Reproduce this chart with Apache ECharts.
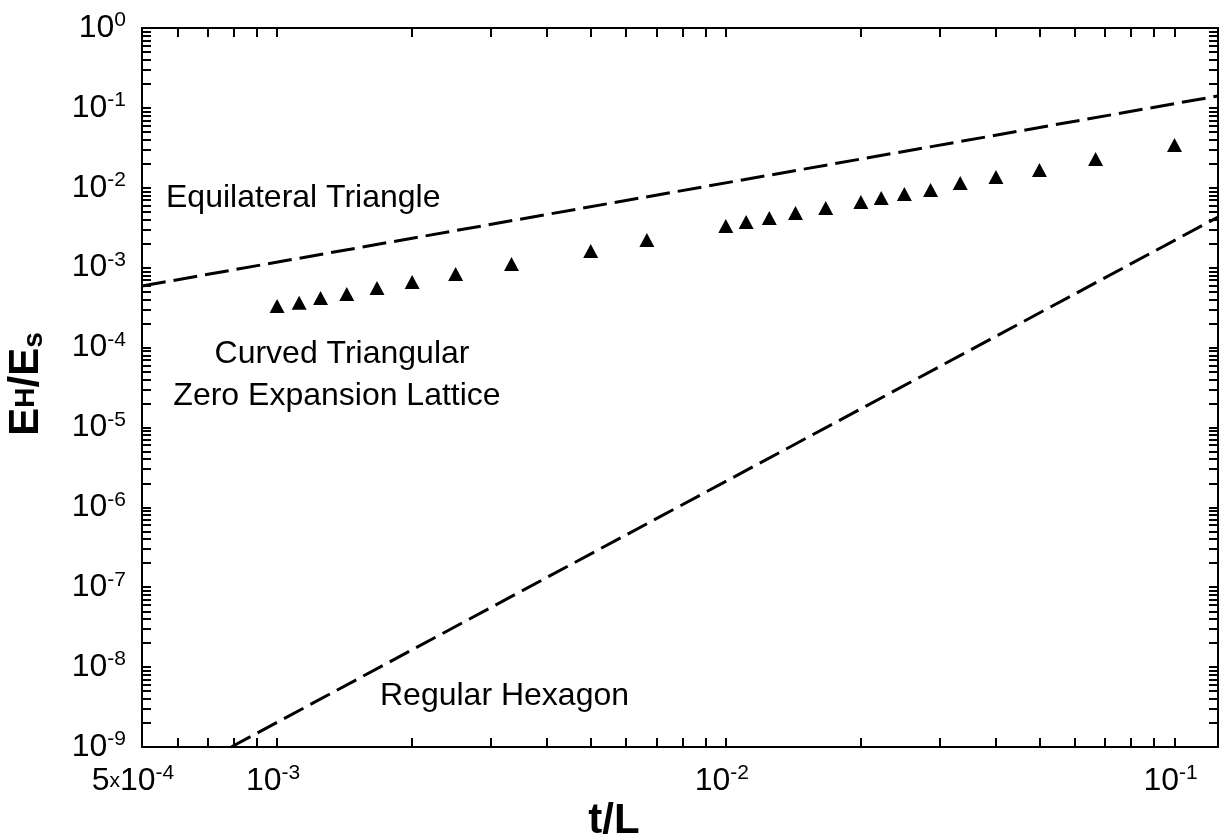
<!DOCTYPE html>
<html>
<head>
<meta charset="utf-8">
<title>EH/Es vs t/L</title>
<style>
  html, body { margin: 0; padding: 0; background: #fff; }
  #chart { width: 1225px; height: 839px; }
</style>
<script src="https://cdn.jsdelivr.net/npm/echarts@6/dist/echarts.min.js"></script>
</head>
<body>
<div id="chart"></div>
<script>
// curved triangular zero expansion lattice
const latticeT = [0.001, 0.00112, 0.00125, 0.00143, 0.00167, 0.002, 0.0025, 0.00333, 0.005, 0.00667,
  0.01, 0.0111, 0.0125, 0.0143, 0.0167, 0.02, 0.0222, 0.025, 0.0286, 0.0333, 0.04, 0.05, 0.0667, 0.1];
const latticeE = [3.32e-4, 3.65e-4, 4.18e-4, 4.69e-4, 5.57e-4, 6.62e-4, 8.34e-4, 1.11e-3, 1.62e-3, 2.22e-3,
  3.33e-3, 3.73e-3, 4.19e-3, 4.84e-3, 5.59e-3, 6.64e-3, 7.45e-3, 8.36e-3, 9.38e-3, 1.15e-2, 1.36e-2, 1.67e-2, 2.29e-2, 3.43e-2];

// end points of the dashed lines
const triangleT = [5e-4, 0.125];
const triangleE = [5.9e-4, 0.141];
const hexagonT = [7.9e-4, 0.125];
const hexagonE = [1e-9, 4.3e-3];

// axes
const xMin = 5e-4, xMax = 0.125;
const yMin = 1e-9, yMax = 1;

// tick marks at 1..9 x 10^k inside the range
function logTicks(lo, hi) {
  const out = [];
  for (let k = -10; k <= 1; k++) {
    for (let m = 1; m <= 9; m++) {
      const v = m * Math.pow(10, k);
      if (v > lo * 1.0001 && v < hi * 0.9999) out.push(v);
    }
  }
  return out;
}
const xTicks = logTicks(xMin, xMax);
const yTicks = logTicks(yMin, yMax);

const FONT = 'Liberation Sans, Arial, sans-serif';
const labelRich = {
  b: { fontSize: 32, fontFamily: FONT, color: '#000', lineHeight: 36 },
  s: { fontSize: 21, fontFamily: FONT, color: '#000', lineHeight: 21, verticalAlign: 'top' },
  sp: { fontSize: 21, fontFamily: FONT, color: '#000', lineHeight: 21, verticalAlign: 'top', padding: [0, 18, 0, 0] },
  sx: { fontSize: 21, fontFamily: FONT, color: '#000', lineHeight: 21, verticalAlign: 'top', padding: [0, 8, 0, 0] },
  x: { fontSize: 21, fontFamily: FONT, color: '#000', lineHeight: 36 }
};

function powerOf(v) {
  const e = Math.log10(v);
  const r = Math.round(e);
  return Math.abs(e - r) < 1e-6 ? r : null;
}

function xLabel(v) {
  if (Math.abs(v / xMin - 1) < 1e-3) return '{b|5}{x|x}{b|10}{sp|-4}';
  const p = powerOf(v);
  return p === null ? '' : '{b|10}{sx|' + p + '}';
}

function yLabel(v) {
  const p = powerOf(v);
  return p === null ? '' : '{b|10}{s|' + p + '}';
}

const line = { color: '#000', width: 2 };

function axisBase(extra) {
  return Object.assign({
    type: 'log',
    logBase: 10,
    axisLine: { show: true, onZero: false, lineStyle: line },
    splitLine: { show: false },
    minorTick: { show: false }
  }, extra);
}

const chart = echarts.init(document.getElementById('chart'));

chart.setOption({
  animation: false,
  backgroundColor: '#fff',
  grid: { left: 142, right: 7, top: 28, bottom: 92, containLabel: false },
  xAxis: [
    axisBase({
      position: 'bottom', min: xMin, max: xMax,
      axisTick: { show: true, inside: true, length: 9, lineStyle: line, customValues: xTicks },
      axisLabel: { margin: 16, formatter: xLabel, rich: labelRich, showMinLabel: true, showMaxLabel: false }
    }),
    axisBase({
      position: 'top', min: xMin, max: xMax,
      axisTick: { show: true, inside: true, length: 9, lineStyle: line, customValues: xTicks },
      axisLabel: { show: false }
    })
  ],
  yAxis: [
    axisBase({
      position: 'left', min: yMin, max: yMax,
      axisTick: { show: true, inside: true, length: 9, lineStyle: line, customValues: yTicks },
      axisLabel: { margin: 16, formatter: yLabel, rich: labelRich, showMinLabel: true, showMaxLabel: true }
    }),
    axisBase({
      position: 'right', min: yMin, max: yMax,
      axisTick: { show: true, inside: true, length: 9, lineStyle: line, customValues: yTicks },
      axisLabel: { show: false }
    })
  ],
  series: [
    {
      name: 'Equilateral Triangle',
      type: 'line',
      symbol: 'none',
      lineStyle: { color: '#000', width: 3, type: [24, 8] },
      data: triangleT.map((t, i) => [t, triangleE[i]])
    },
    {
      name: 'Regular Hexagon',
      type: 'line',
      symbol: 'none',
      lineStyle: { color: '#000', width: 3, type: [22, 8] },
      data: hexagonT.map((t, i) => [t, hexagonE[i]])
    },
    {
      name: 'Curved Triangular Zero Expansion Lattice',
      type: 'scatter',
      symbol: 'triangle',
      symbolSize: [15, 14],
      itemStyle: { color: '#000', opacity: 1 },
      data: latticeT.map((t, i) => [t, latticeE[i]])
    }
  ],
  graphic: [
    { type: 'text', x: 166, y: 198, style: { text: 'Equilateral Triangle', font: '32px ' + FONT, fill: '#000', align: 'left', verticalAlign: 'middle' } },
    { type: 'text', x: 342, y: 354, style: { text: 'Curved Triangular', font: '32px ' + FONT, fill: '#000', align: 'center', verticalAlign: 'middle' } },
    { type: 'text', x: 337, y: 396, style: { text: 'Zero Expansion Lattice', font: '32px ' + FONT, fill: '#000', align: 'center', verticalAlign: 'middle' } },
    { type: 'text', x: 380, y: 696, style: { text: 'Regular Hexagon', font: '32px ' + FONT, fill: '#000', align: 'left', verticalAlign: 'middle' } },
    { type: 'text', x: 614, y: 821, style: { text: 't/L', font: 'bold 42px ' + FONT, fill: '#000', align: 'center', verticalAlign: 'middle' } },
    {
      type: 'text', x: 26, y: 384, rotation: Math.PI / 2,
      style: {
        text: '{b|E}{h|H}{b|/E}{sub|s}',
        align: 'center', verticalAlign: 'middle',
        rich: {
          b: { font: 'bold 42px ' + FONT, fill: '#000', lineHeight: 44 },
          h: { font: 'bold 28px ' + FONT, fill: '#000', lineHeight: 44 },
          sub: { font: 'bold 28px ' + FONT, fill: '#000', lineHeight: 30, verticalAlign: 'bottom' }
        }
      }
    }
  ]
});
</script>
</body>
</html>
